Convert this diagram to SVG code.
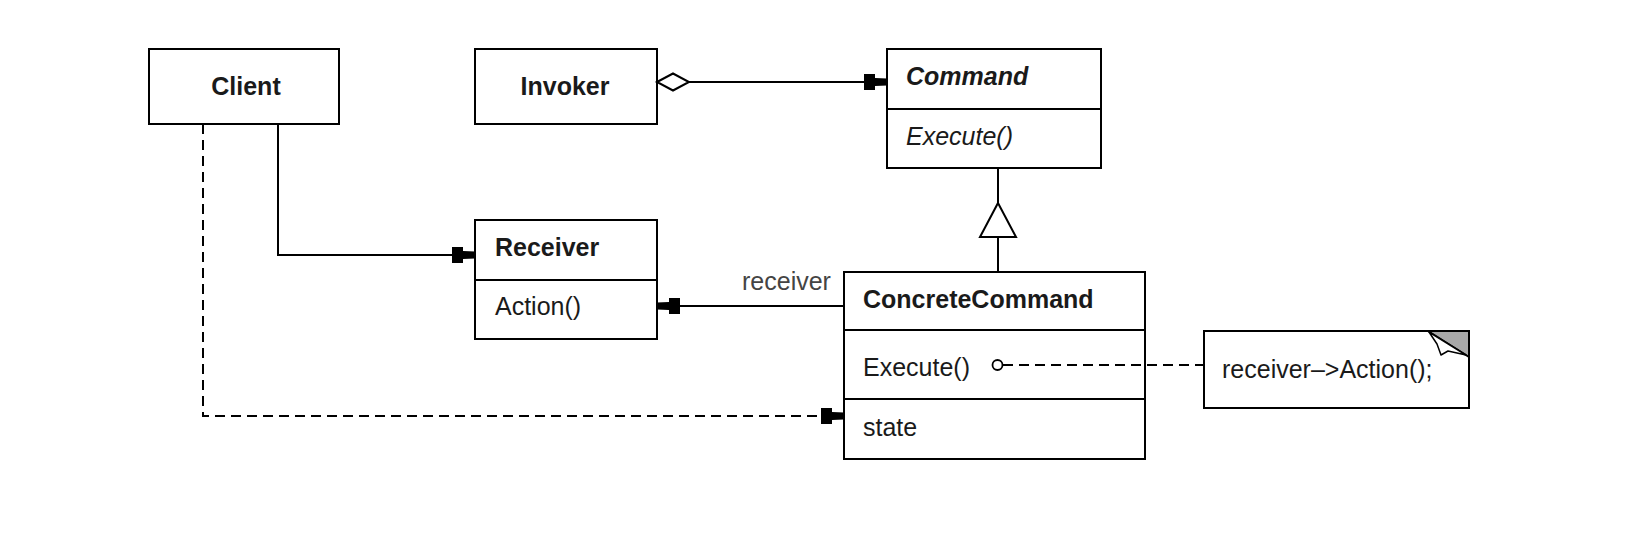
<svg xmlns="http://www.w3.org/2000/svg" width="1646" height="546" viewBox="0 0 1646 546">
<style>
.box{fill:#fff;stroke:#000;stroke-width:2}
.sep{stroke:#000;stroke-width:2}
.ln{fill:none;stroke:#000;stroke-width:2}
.dash{fill:none;stroke:#000;stroke-width:2;stroke-dasharray:10 6}
.t{font-family:"Liberation Sans",Arial,Helvetica,sans-serif;font-size:25px;fill:#1a1a1a}
.b{font-weight:bold}
.i{font-style:italic}
.c{text-anchor:middle}
.lbl{fill:#444}
</style>
<defs>
<marker id="arr" markerUnits="userSpaceOnUse" viewBox="-24 -9 25 18" markerWidth="25" markerHeight="18" refX="0" refY="0" orient="auto">
<path d="M-23,-8 L-12,-8 L-12,-4 L0,-3.5 L0,3.5 L-12,4 L-12,8 L-23,8 Z" fill="#000"/>
</marker>
</defs>
<rect width="1646" height="546" fill="#fff"/>

<g id="client">
<rect class="box" x="149" y="49" width="190" height="75"/>
<text class="t b c" x="246" y="95">Client</text>
</g>

<g id="invoker">
<rect class="box" x="475" y="49" width="182" height="75"/>
<text class="t b c" x="565" y="95">Invoker</text>
</g>

<g id="command">
<rect class="box" x="887" y="49" width="214" height="119"/>
<line class="sep" x1="887" y1="109" x2="1101" y2="109"/>
<text class="t b i" x="906" y="85">Command</text>
<text class="t i" x="906" y="145">Execute()</text>
</g>

<g id="receiver">
<rect class="box" x="475" y="220" width="182" height="119"/>
<line class="sep" x1="475" y1="280" x2="657" y2="280"/>
<text class="t b" x="495" y="256">Receiver</text>
<text class="t" x="495" y="315">Action()</text>
</g>

<g id="concretecommand">
<rect class="box" x="844" y="272" width="301" height="187"/>
<line class="sep" x1="844" y1="330" x2="1145" y2="330"/>
<line class="sep" x1="844" y1="399" x2="1145" y2="399"/>
<text class="t b" x="863" y="308">ConcreteCommand</text>
<text class="t" x="863" y="376">Execute()</text>
<text class="t" x="863" y="436">state</text>
</g>

<g id="note">
<rect class="box" x="1204" y="331" width="265" height="77"/>
<polygon points="1428,331 1469,331 1469,357" fill="#a8a8a8" stroke="#000" stroke-width="2" stroke-linejoin="miter"/>
<path d="M1429,332 L1437,344 L1441,355 L1448,351 L1466,355 Z" fill="#fff" stroke="#000" stroke-width="1.5" stroke-linejoin="round"/>
<text class="t" x="1222" y="378">receiver–&gt;Action();</text>
</g>

<g id="connectors">
<polygon points="657,82 673,73.5 689,82 673,90.5" fill="#fff" stroke="#000" stroke-width="2"/>
<line class="ln" x1="689" y1="82" x2="887" y2="82" marker-end="url(#arr)"/>
<polyline class="ln" points="278,124 278,255 475,255" marker-end="url(#arr)"/>
<polyline class="dash" points="203,124 203,416 844,416" marker-end="url(#arr)"/>
<line class="ln" x1="844" y1="306" x2="657" y2="306" marker-end="url(#arr)"/>
<text class="t lbl" x="742" y="290">receiver</text>
<line class="ln" x1="998" y1="168" x2="998" y2="203"/>
<polygon points="998,203 1016,237 980,237" fill="#fff" stroke="#000" stroke-width="2"/>
<line class="ln" x1="998" y1="237" x2="998" y2="272"/>
<line class="dash" x1="1003" y1="365" x2="1204" y2="365"/>
<circle cx="997.5" cy="365" r="5" fill="#fff" stroke="#000" stroke-width="1.8"/>
</g>
</svg>
